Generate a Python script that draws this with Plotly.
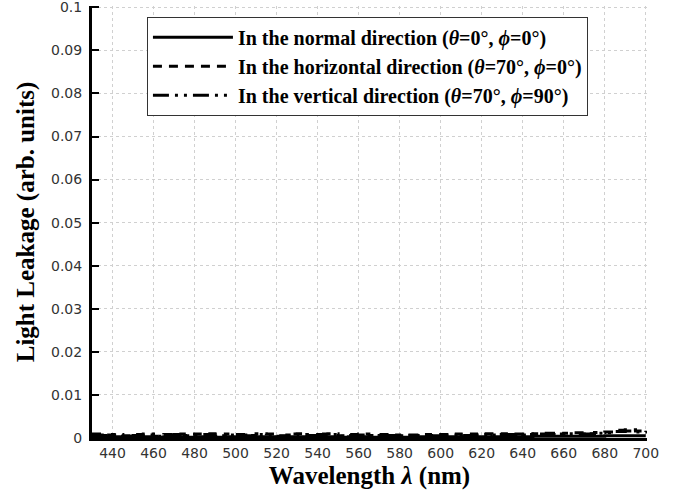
import plotly.graph_objects as go

wavelength = list(range(430, 701, 5))
normal = [0.3,0.3,0.3,0.2,0.3, 0.3,0.2,0.3,0.3,0.2, 0.3,0.3,0.2,0.3,0.3, 0.2,0.3,0.3,0.2,0.3,
          0.3,0.2,0.3,0.3,0.2, 0.3,0.3,0.2,0.3,0.3, 0.2,0.3,0.3,0.2,0.3, 0.3,0.3,0.3,0.3,0.3,
          0.3,0.3,0.3,0.4,0.4, 0.4,0.4,0.4,0.4,0.4, 0.5,0.5,0.5,0.5,0.5]
horizontal = [0.9,0.7,0.8,0.5,0.8, 0.9,0.4,0.8,0.9,0.6, 0.9,1.0,0.5,0.9,0.8, 0.6,1.0,0.9,0.5,0.9,
              1.0,0.6,0.9,1.0,0.5, 0.8,0.9,0.6,0.8,0.7, 0.5,0.7,0.8,0.6,0.8, 0.9,0.7,0.9,1.0,0.8,
              1.0,0.9,0.8,1.0,1.1, 0.9,1.1,1.2,1.0,1.3, 1.4,1.8,1.9,1.6,2.0]
vertical = [0.7,0.6,0.7,0.4,0.6, 0.7,0.4,0.6,0.8,0.5, 0.7,0.8,0.4,0.7,0.7, 0.5,0.8,0.8,0.4,0.7,
            0.8,0.5,0.8,0.8,0.4, 0.6,0.7,0.5,0.6,0.6, 0.4,0.6,0.7,0.5,0.7, 0.7,0.6,0.7,0.8,0.7,
            0.8,0.8,0.7,0.9,0.9, 0.8,1.0,1.0,0.9,1.1, 1.2,1.5,1.6,1.4,1.7]
scale = 1e-3
x_ticks = list(range(440, 701, 20))
y_ticks = [0, 0.01, 0.02, 0.03, 0.04, 0.05, 0.06, 0.07, 0.08, 0.09, 0.1]
y_tick_text = ["0", "0.01", "0.02", "0.03", "0.04", "0.05", "0.06", "0.07", "0.08", "0.09", "0.1"]

names = [
    "<b>In the normal direction (<i>θ</i>=0°, <i>ϕ</i>=0°)</b>",
    "<b>In the horizontal direction (<i>θ</i>=70°, <i>ϕ</i>=0°)</b>",
    "<b>In the vertical direction (<i>θ</i>=70°, <i>ϕ</i>=90°)</b>",
]
series = [normal, horizontal, vertical]
dashes = ["solid", "9px,7px", "16px,6px,3px,6px,3px,6px"]

fig = go.Figure()
for name, vals, dash in zip(names, series, dashes):
    fig.add_trace(go.Scatter(
        x=wavelength, y=[v * scale for v in vals], mode="lines", name=name,
        line=dict(color="black", width=3, dash=dash, shape="hv"),
    ))

fig.update_layout(
    width=692, height=498,
    margin=dict(l=92, r=45, t=6, b=60),
    paper_bgcolor="white", plot_bgcolor="white",
    showlegend=True,
    legend=dict(
        x=0.099, y=0.975, xanchor="left", yanchor="top",
        bgcolor="white", bordercolor="#333", borderwidth=1,
        font=dict(family="Liberation Serif", size=20, color="black"),
        itemwidth=80, tracegroupgap=0,
    ),
    xaxis=dict(
        range=[430, 700.6], tickvals=x_ticks, ticktext=[str(t) for t in x_ticks],
        automargin=False, ticklabeloverflow="allow",
        showgrid=True, gridcolor="#d0d0d0", griddash="dot", gridwidth=1,
        showline=True, linecolor="black", linewidth=3,
        ticks="", zeroline=False,
        tickfont=dict(family="DejaVu Sans", size=14, color="#333"),
        title=dict(text="<b>Wavelength <i>λ</i> (nm)</b>",
                   font=dict(family="Liberation Serif", size=25, color="black"),
                   standoff=7),
    ),
    yaxis=dict(
        range=[0, 0.1003], tickvals=y_ticks, ticktext=y_tick_text,
        automargin=False, ticklabeloverflow="allow", ticklabelstandoff=4,
        showgrid=True, gridcolor="#d0d0d0", griddash="dot", gridwidth=1,
        showline=True, linecolor="black", linewidth=3,
        ticks="inside", ticklen=7, tickwidth=2, tickcolor="black",
        zeroline=False,
        tickfont=dict(family="DejaVu Sans", size=14, color="#333"),
        title=dict(text="<b>Light Leakage (arb. units)</b>",
                   font=dict(family="Liberation Serif", size=25, color="black"),
                   standoff=10),
    ),
)

fig.write_html("out.html", config={"displayModeBar": False},
               post_script="document.body.style.margin='0';")
